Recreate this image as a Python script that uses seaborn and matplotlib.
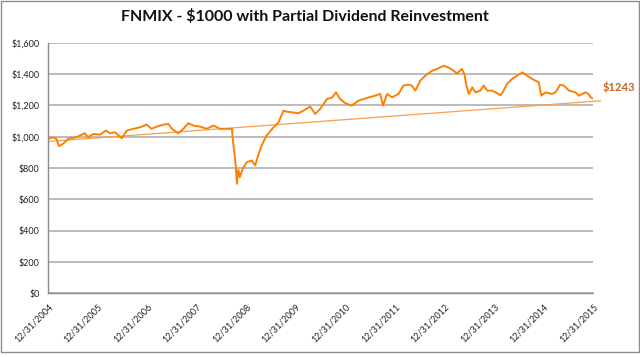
import numpy as np
import pandas as pd
import matplotlib
matplotlib.use("Agg")
import matplotlib.pyplot as plt
import seaborn as sns

# years since 12/31/2004, value of $1000 invested
years = [0.00, 0.10, 0.17, 0.22, 0.30, 0.41, 0.57, 0.74, 0.81, 0.91,
         1.05, 1.17, 1.25, 1.35, 1.49, 1.59, 1.72, 1.86, 1.99, 2.09,
         2.19, 2.33, 2.43, 2.50, 2.63, 2.73, 2.83, 2.93, 3.07, 3.20,
         3.34, 3.47, 3.61, 3.71, 3.73, 3.77, 3.79, 3.81, 3.84, 3.87,
         3.93, 4.01, 4.11, 4.18, 4.24, 4.31, 4.41, 4.55, 4.65, 4.75,
         4.82, 4.92, 5.05, 5.15, 5.29, 5.39, 5.49, 5.63, 5.73, 5.81,
         5.89, 6.00, 6.13, 6.26, 6.43, 6.60, 6.70, 6.76, 6.84, 6.94,
         7.07, 7.17, 7.27, 7.34, 7.41, 7.51, 7.65, 7.75, 7.85, 7.98,
         8.08, 8.18, 8.25, 8.35, 8.40, 8.44, 8.49, 8.56, 8.62, 8.72,
         8.79, 8.86, 8.96, 9.06, 9.13, 9.19, 9.26, 9.36, 9.46, 9.57,
         9.67, 9.77, 9.90, 9.95, 10.04, 10.17, 10.24, 10.33, 10.41, 10.51,
         10.64, 10.71, 10.78, 10.84, 10.90, 10.95, 11.00]
values = [987, 997, 987, 940, 955, 987, 997, 1023, 997, 1018,
          1014, 1040, 1023, 1029, 991, 1040, 1051, 1061, 1078, 1051,
          1065, 1078, 1082, 1051, 1023, 1051, 1087, 1072, 1065, 1051,
          1072, 1051, 1051, 1051, 976, 870, 806, 700, 790, 743,
          797, 838, 849, 817, 881, 945, 1008, 1061, 1093, 1167,
          1160, 1157, 1150, 1167, 1193, 1146, 1178, 1242, 1250, 1284,
          1242, 1214, 1199, 1231, 1248, 1263, 1274, 1199, 1274, 1252,
          1274, 1327, 1333, 1327, 1295, 1359, 1401, 1422, 1433, 1454,
          1443, 1422, 1405, 1433, 1401, 1327, 1274, 1316, 1284, 1295,
          1327, 1295, 1295, 1278, 1265, 1295, 1338, 1369, 1390, 1411,
          1390, 1369, 1348, 1263, 1284, 1274, 1284, 1333, 1327, 1295,
          1284, 1263, 1274, 1284, 1274, 1252, 1243]

# linear trendline endpoints (extends a bit past the last date)
trend_years = [0.0, 11.15]
trend_values = [970, 1230]

tick_labels = ["12/31/2004", "12/31/2005", "12/31/2006", "12/31/2007",
               "12/31/2008", "12/31/2009", "12/31/2010", "12/31/2011",
               "12/31/2012", "12/31/2013", "12/31/2014", "12/31/2015"]

df = pd.DataFrame({"years": years, "value": values})
trend = pd.DataFrame({"years": trend_years, "value": trend_values})

sns.set_style("white")
plt.rcParams["font.family"] = ["Lato", "DejaVu Sans"]

fig = plt.figure(figsize=(6.4, 3.57), dpi=100)
ax = fig.add_axes([0.075, 0.178, 0.852, 0.702])

orange = "#FF8000"
sns.lineplot(data=trend, x="years", y="value", ax=ax, color="#F7A04A",
             linewidth=0.9, clip_on=False)
sns.lineplot(data=df, x="years", y="value", ax=ax, color=orange, linewidth=1.4)

ax.set_xlim(0, 11)
ax.set_ylim(0, 1600)
ax.set_yticks(range(0, 1601, 200))
ax.set_yticklabels([f"${v:,}" for v in range(0, 1601, 200)], fontsize=6.5, color="#222222")
ax.set_xticks(range(len(tick_labels)))
ax.set_xticklabels(tick_labels, rotation=45, ha="right", rotation_mode="anchor",
                   fontsize=6.5, color="#222222")
ax.set_xlabel("")
ax.set_ylabel("")

ax.grid(axis="y", color="#A8A8A8", linewidth=1.1)
ax.grid(axis="x", visible=False)
ax.set_axisbelow(True)
for side in ["top", "right"]:
    ax.spines[side].set_visible(False)
for side in ["left", "bottom"]:
    ax.spines[side].set_color("#8C8C8C")
    ax.spines[side].set_linewidth(1.0)
ax.tick_params(axis="both", length=4, width=1, color="#8C8C8C", pad=2)

ax.annotate(f"${values[-1]}", xy=(years[-1], values[-1]), xytext=(7, 4),
            textcoords="offset points", fontsize=8, fontweight="bold",
            color="#C8621B", va="bottom", annotation_clip=False)

fig.suptitle("FNMIX - $1000 with Partial Dividend Reinvestment", x=0.476, y=0.975,
             fontsize=11.5, fontweight="bold", color="#111111")

fig.add_artist(plt.Rectangle((0.001, 0.013), 0.997, 0.985, transform=fig.transFigure,
                             fill=False, edgecolor="#8C8C8C", linewidth=1.0))

fig.savefig("out.png", dpi=100)
